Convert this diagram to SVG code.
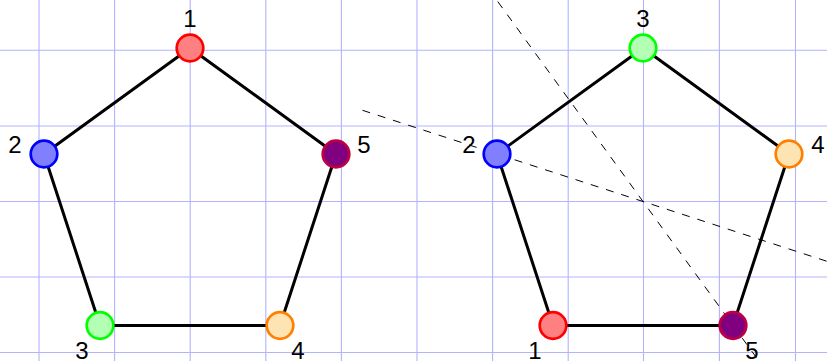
<svg xmlns="http://www.w3.org/2000/svg" width="827" height="361" viewBox="0 0 827 361">
  <style>
    .grid line { stroke: #b3b3ff; stroke-width: 1.1; }
    .edge { stroke: #000; stroke-width: 3; stroke-linecap: round; fill: none; }
    .dash { stroke: #000; stroke-width: 1; stroke-dasharray: 8 8; fill: none; }
    .node circle { stroke-width: 2.7; }
    .lbl { font-family: "Liberation Sans", Arial, sans-serif; font-size: 24px; fill: #000; text-anchor: middle; }
    .n1 { fill: #ff8080; stroke: #ff0000; }
    .n2 { fill: #8080ff; stroke: #0000ff; }
    .n3 { fill: #b3ffb3; stroke: #00ff00; }
    .n4 { fill: #ffe4b3; stroke: #ff8000; }
    .n5 { fill: #800080; stroke: #bf0040; }
  </style>
  <rect width="827" height="361" fill="#ffffff"/>
  <g class="grid" id="grid">
    <line x1="39" y1="0" x2="39" y2="361"/>
    <line x1="114.6" y1="0" x2="114.6" y2="361"/>
    <line x1="190.2" y1="0" x2="190.2" y2="361"/>
    <line x1="265.8" y1="0" x2="265.8" y2="361"/>
    <line x1="341.4" y1="0" x2="341.4" y2="361"/>
    <line x1="417" y1="0" x2="417" y2="361"/>
    <line x1="492.6" y1="0" x2="492.6" y2="361"/>
    <line x1="568.2" y1="0" x2="568.2" y2="361"/>
    <line x1="643.5" y1="0" x2="643.5" y2="361"/>
    <line x1="719.4" y1="0" x2="719.4" y2="361"/>
    <line x1="795.5" y1="0" x2="795.5" y2="361"/>
    <line x1="0" y1="50.3" x2="827" y2="50.3"/>
    <line x1="0" y1="126" x2="827" y2="126"/>
    <line x1="0" y1="201.5" x2="827" y2="201.5"/>
    <line x1="0" y1="277" x2="827" y2="277"/>
    <line x1="0" y1="352.5" x2="827" y2="352.5"/>
  </g>
  <g id="connectors">
    <line class="dash" x1="469.6" y1="-37.2" x2="816.4" y2="440.2"/>
    <line class="dash" x1="362.5" y1="110.3" x2="923.5" y2="292.7"/>
    <line class="edge" x1="190" y1="48" x2="44" y2="154"/>
    <line class="edge" x1="44" y1="154" x2="100" y2="325.5"/>
    <line class="edge" x1="100" y1="325.5" x2="280" y2="325.5"/>
    <line class="edge" x1="280" y1="325.5" x2="336" y2="154"/>
    <line class="edge" x1="336" y1="154" x2="190" y2="48"/>
    <line class="edge" x1="643" y1="48" x2="497" y2="154"/>
    <line class="edge" x1="497" y1="154" x2="553" y2="325.5"/>
    <line class="edge" x1="553" y1="325.5" x2="733" y2="325.5"/>
    <line class="edge" x1="733" y1="325.5" x2="789" y2="154"/>
    <line class="edge" x1="789" y1="154" x2="643" y2="48"/>
  </g>
  <g id="L1" class="node"><circle class="n1" cx="190" cy="48" r="13.3"/><text class="lbl" x="190" y="27">1</text></g>
  <g id="L2" class="node"><circle class="n2" cx="44" cy="154" r="13.3"/><text class="lbl" x="15" y="153">2</text></g>
  <g id="L3" class="node"><circle class="n3" cx="100" cy="325.5" r="13.3"/><text class="lbl" x="82" y="359">3</text></g>
  <g id="L4" class="node"><circle class="n4" cx="280" cy="325.5" r="13.3"/><text class="lbl" x="298" y="359">4</text></g>
  <g id="L5" class="node"><circle class="n5" cx="336" cy="154" r="13.3"/><text class="lbl" x="364" y="153">5</text></g>
  <g id="R3" class="node"><circle class="n3" cx="643" cy="48" r="13.3"/><text class="lbl" x="643" y="27">3</text></g>
  <g id="R2" class="node"><circle class="n2" cx="497" cy="154" r="13.3"/><text class="lbl" x="469" y="153">2</text></g>
  <g id="R4" class="node"><circle class="n4" cx="789" cy="154" r="13.3"/><text class="lbl" x="818" y="153">4</text></g>
  <g id="R1" class="node"><circle class="n1" cx="553" cy="325.5" r="13.3"/><text class="lbl" x="535" y="359">1</text></g>
  <g id="R5" class="node"><circle class="n5" cx="733" cy="325.5" r="13.3"/><text class="lbl" x="752" y="359">5</text></g>
</svg>
